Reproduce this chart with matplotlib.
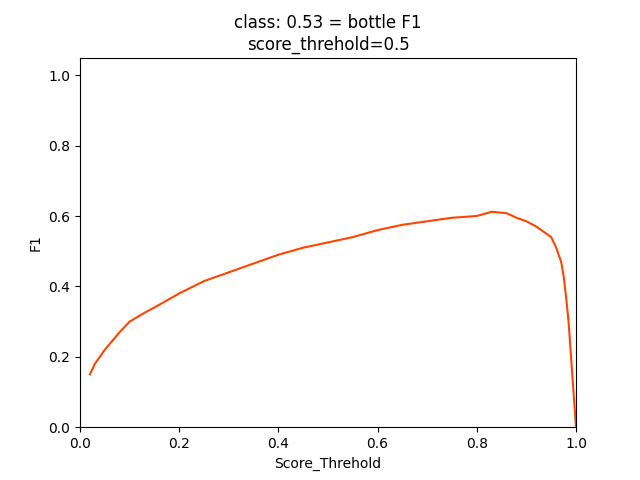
import matplotlib
matplotlib.use("Agg")
import matplotlib.pyplot as plt

score_threshold = [0.02, 0.03, 0.05, 0.08, 0.10, 0.13, 0.15, 0.20, 0.25, 0.30, 0.35, 0.40,
                   0.45, 0.50, 0.55, 0.60, 0.65, 0.70, 0.75, 0.80, 0.83, 0.86, 0.88,
                   0.90, 0.92, 0.94, 0.95, 0.96, 0.97, 0.975, 0.98, 0.985, 0.99, 0.995, 1.0]
f1 = [0.15, 0.18, 0.22, 0.27, 0.30, 0.325, 0.34, 0.38, 0.415, 0.44, 0.465, 0.49,
      0.51, 0.525, 0.54, 0.56, 0.575, 0.585, 0.595, 0.60, 0.612, 0.608, 0.595,
      0.585, 0.57, 0.55, 0.54, 0.51, 0.47, 0.43, 0.37, 0.30, 0.20, 0.10, 0.0]

fig, ax = plt.subplots(figsize=(6.4, 4.8), dpi=100)
ax.plot(score_threshold, f1, color="orangered", linewidth=1.5)
ax.set_xlim(0, 1)
ax.set_ylim(0, 1.05)
ax.set_xlabel("Score_Threhold")
ax.set_ylabel("F1")
ax.set_title("class: 0.53 = bottle F1\nscore_threhold=0.5")
plt.savefig("out.png")
